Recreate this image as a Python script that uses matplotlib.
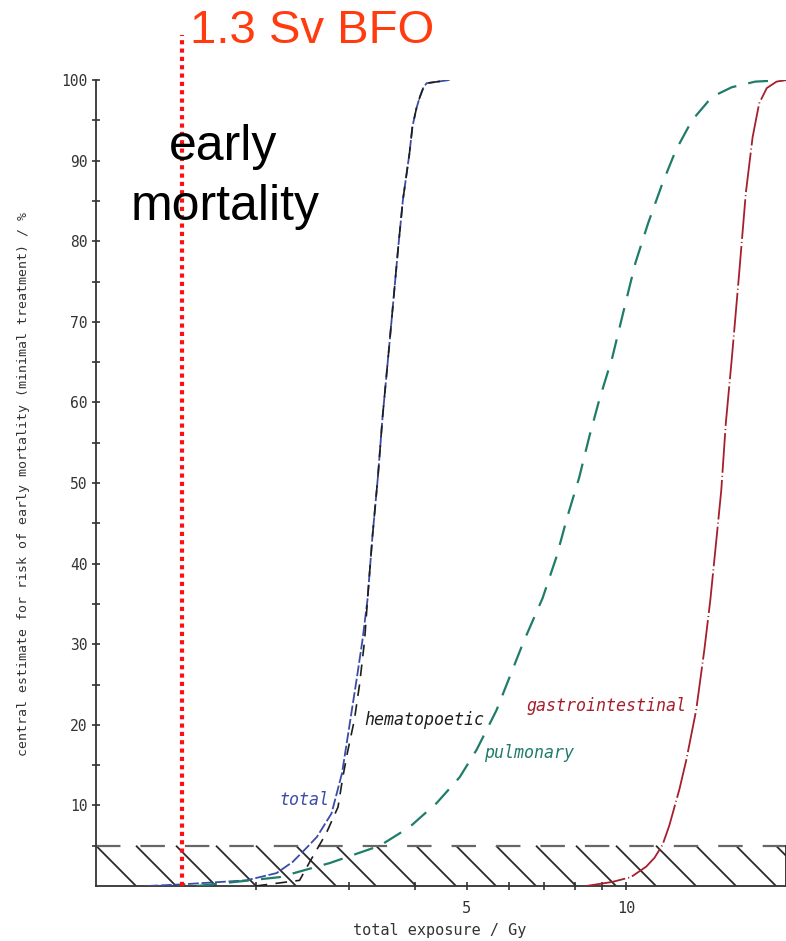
"""
Early mortality risk vs. total exposure (log dose axis), with the
1.3 Sv BFO marker and the 5 % hatched band.
Output: out.png
"""

import numpy as np
import matplotlib
matplotlib.use('Agg')
import matplotlib.pyplot as plt
import matplotlib.transforms as mtransforms
from matplotlib.ticker import FixedLocator, NullFormatter, FixedFormatter

# ──────────────────────────────────────────────
# Data
# ──────────────────────────────────────────────
total_dose = [1.25, 1.45, 1.92, 2.19, 2.35, 2.50, 2.61, 2.78, 2.91, 3.01,
              3.10, 3.18, 3.25, 3.32, 3.40, 3.47, 3.58, 3.71, 3.79, 3.90,
              3.95, 4.02, 4.08, 4.14, 4.20, 4.64]
total_risk = [0.0, 0.2, 0.7, 1.6, 3.0, 4.8, 6.1, 9.0, 14.0, 20.2,
              25.6, 30.5, 35.5, 43.3, 50.7, 58.2, 67.7, 78.9, 85.1, 90.9,
              94.2, 96.5, 97.9, 99.0, 99.6, 100.0]

hema_dose = [2.00, 2.42, 2.53, 2.72, 2.86, 2.92, 2.98, 3.07, 3.14, 3.21,
             3.25, 3.32, 3.40, 3.47, 3.58, 3.71, 3.79, 3.90, 3.95, 4.02,
             4.08, 4.14, 4.20, 4.64]
hema_risk = [0.0, 0.7, 3.0, 6.6, 9.8, 13.5, 16.6, 20.6, 25.0, 30.5,
             35.5, 43.3, 50.7, 58.2, 67.7, 78.9, 85.1, 90.9, 94.2, 96.5,
             97.9, 99.0, 99.6, 100.0]

pulm_dose = [1.55, 2.22, 2.76, 3.43, 3.90, 4.39, 4.85, 5.22, 5.69, 6.40,
             6.95, 7.38, 7.74, 8.15, 8.51, 8.89, 9.41, 9.92, 10.4, 11.0,
             11.7, 12.4, 13.3, 14.5, 15.8, 17.5, 20.0]
pulm_risk = [0.0, 1.1, 2.85, 5.0, 7.3, 10.3, 13.5, 16.9, 21.8, 30.3,
             35.7, 40.8, 45.8, 50.7, 55.7, 60.3, 65.6, 71.8, 77.3, 82.3,
             87.2, 91.3, 95.0, 97.9, 99.1, 99.8, 100.0]

gi_dose = [8.4, 9.4, 10.2, 10.9, 11.3, 11.7, 12.05, 12.59, 12.97, 13.54,
           14.03, 14.4, 14.8, 15.1, 15.4, 15.8, 16.3, 16.8, 17.3, 17.8,
           18.4, 19.2, 20.0]
gi_risk = [0.0, 0.5, 1.1, 2.4, 3.5, 5.1, 7.5, 12.0, 15.6, 21.8,
           29.3, 35.5, 43.3, 49.1, 57.4, 65.3, 75.6, 86.0, 92.9, 97.1,
           99.0, 99.8, 100.0]

bfo_dose = 1.45        # where the dotted marker sits on the dose axis
band_level = 5         # top of the hatched band (%)

x_min, x_max = 1, 20
y_ticks_major = [10, 20, 30, 40, 50, 60, 70, 80, 90, 100]
y_ticks_minor = [5, 15, 25, 35, 45, 55, 65, 75, 85, 95]
x_ticks_major = [5, 10]
x_ticks_minor = [2, 3, 4, 6, 7, 8, 9]

c_total = '#3a4ca8'
c_hema = '#1e1e1e'
c_pulm = '#1f7c6a'
c_gi = '#a51f2c'
c_axis = '#333333'
mono = 'DejaVu Sans Mono'

# ──────────────────────────────────────────────
# Figure
# ──────────────────────────────────────────────
W, H = 786, 941
fig = plt.figure(figsize=(W / 100, H / 100), dpi=100)
ax = fig.add_axes([96 / W, (H - 886) / H, 690 / W, 806 / H])

ax.set_xscale('log')
ax.set_xlim(x_min, x_max)
ax.set_ylim(0, 100)

# hatched 5 % band (45 degree strokes, ~40 px apart)
blend = mtransforms.blended_transform_factory(ax.transAxes, ax.transData)
step = 40 / 690
for x0 in np.arange(0, 1.0, step):
    ax.plot([x0, x0 + step], [band_level, 0], color='#2a2a2a', lw=1.3,
            transform=blend, zorder=2, solid_capstyle='butt')
ax.plot([0, 1], [band_level, band_level], color='#666666', lw=1.6,
        dashes=(11, 9), transform=blend, zorder=2)
ax.plot([1, 1], [0, band_level], color='#2a2a2a', lw=1.3,
        transform=blend, zorder=2, clip_on=False)

# curves
ax.plot(total_dose, total_risk, color=c_total, lw=1.3, dashes=(6, 1.5), zorder=3)
ax.plot(hema_dose, hema_risk, color=c_hema, lw=1.2, dashes=(7, 5), zorder=4)
ax.plot(pulm_dose, pulm_risk, color=c_pulm, lw=1.6, dashes=(9, 5.5), zorder=3)
ax.plot(gi_dose, gi_risk, color=c_gi, lw=1.3, dashes=(22, 1.7, 0.6, 1.7), zorder=3)

# curve labels
lab = dict(fontsize=12, family=mono, style='italic', va='center', ha='left')
ax.text(2.22, 10.7, 'total', color=c_total, **lab)
ax.text(3.21, 20.6, 'hematopoetic', color=c_hema, **lab)
ax.text(5.40, 16.5, 'pulmonary', color=c_pulm, **lab)
ax.text(6.48, 22.3, 'gastrointestinal', color=c_gi, **lab)

# 1.3 Sv BFO marker
ax.plot([bfo_dose, bfo_dose], [0, 105.6], color='#ff1010', lw=3.0,
        dashes=(1, 1), zorder=6, clip_on=False)

# ──────────────────────────────────────────────
# Axes styling
# ──────────────────────────────────────────────
for side in ('top', 'right'):
    ax.spines[side].set_visible(False)
for side in ('left', 'bottom'):
    ax.spines[side].set_color(c_axis)
    ax.spines[side].set_linewidth(1.3)

ax.yaxis.set_major_locator(FixedLocator(y_ticks_major))
ax.yaxis.set_minor_locator(FixedLocator(y_ticks_minor))
ax.xaxis.set_major_locator(FixedLocator(x_ticks_major))
ax.xaxis.set_major_formatter(FixedFormatter([str(v) for v in x_ticks_major]))
ax.xaxis.set_minor_locator(FixedLocator(x_ticks_minor))
ax.xaxis.set_minor_formatter(NullFormatter())

ax.tick_params(which='both', direction='inout', length=5.5, width=1.2,
               color=c_axis, labelcolor='#333333')
ax.tick_params(axis='y', which='both', pad=3.5, labelsize=10.5)
ax.tick_params(axis='x', which='both', pad=8, labelsize=11)
for lbl in ax.get_xticklabels() + ax.get_yticklabels():
    lbl.set_family(mono)

fig.text(440 / W, 1 - 930 / H, 'total exposure / Gy', family=mono,
         fontsize=11, color='#333333', ha='center', va='center')
fig.text(24 / W, 1 - 484 / H,
         'central estimate for risk of early mortality (minimal treatment) / %',
         family=mono, fontsize=9.5, color='#333333', rotation=90,
         ha='center', va='center')

# overlay annotations
fig.text(190 / W, 1 - 43 / H, '1.3 Sv BFO', family='Liberation Sans',
         fontsize=34, color='#ff3b0f', ha='left', va='baseline')
fig.text(223 / W, 1 - 160 / H, 'early', family='Liberation Sans',
         fontsize=36, color='black', ha='center', va='baseline')
fig.text(225 / W, 1 - 220 / H, 'mortality', family='Liberation Sans',
         fontsize=36, color='black', ha='center', va='baseline')

fig.savefig('out.png', dpi=100)
